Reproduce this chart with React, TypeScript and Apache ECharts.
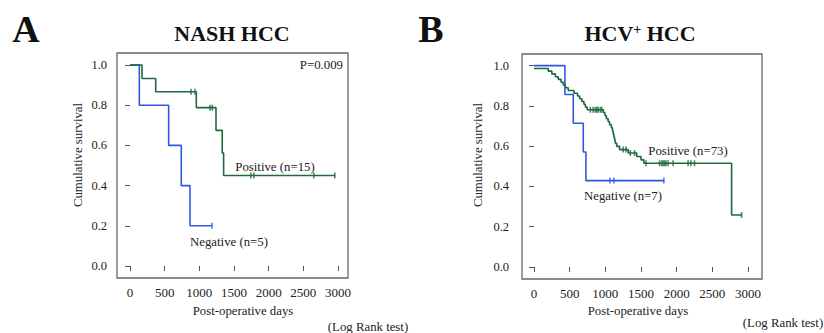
import React, { useEffect, useRef } from "react";
import * as echarts from "echarts";

// ---- Panel A (NASH HCC) ----
const negADays = [0, 134, 557, 739, 865, 1182];
const negASurv = [1.0, 0.8, 0.6, 0.4, 0.2, 0.2];
const negACensDays = [1182];
const negACensSurv = [0.2];

const posADays = [0, 173, 370, 956, 1240, 1330, 1350, 2954];
const posASurv = [1.0, 0.933, 0.867, 0.788, 0.675, 0.5625, 0.45, 0.45];
const posACensDays = [879, 937, 1153, 1187, 1743, 1787, 2651, 2954];
const posACensSurv = [0.867, 0.867, 0.788, 0.788, 0.45, 0.45, 0.45, 0.45];

// ---- Panel B (HCV+ HCC) ----
const negBDays = [0, 434, 551, 691, 728, 1821];
const negBSurv = [1.0, 0.857, 0.714, 0.571, 0.429, 0.429];
const negBCensDays = [1064, 1120, 1821];
const negBCensSurv = [0.429, 0.429, 0.429];

const posBDays = [
  0, 200, 250, 300, 340, 380, 410, 440, 480, 560, 610, 640, 670, 700, 720, 745,
  975, 995, 1015, 1040, 1060, 1085, 1100, 1110, 1120, 1130, 1140, 1160, 1200,
  1320, 1440, 1500, 1540, 2770, 2910,
];
const posBSurv = [
  0.986, 0.973, 0.959, 0.945, 0.932, 0.918, 0.904, 0.89, 0.877, 0.863, 0.849,
  0.836, 0.822, 0.808, 0.795, 0.781, 0.766, 0.751, 0.736, 0.721, 0.706, 0.691,
  0.676, 0.66, 0.645, 0.63, 0.614, 0.599, 0.583, 0.566, 0.549, 0.532, 0.515,
  0.258, 0.258,
];
const posBCensDays = [
  790, 830, 860, 880, 900, 930, 950, 1250, 1290, 1350, 1410, 1570, 1760, 1790,
  1810, 1830, 1850, 1880, 1950, 2160, 2200, 2250, 2910,
];
const posBCensSurv = [
  0.781, 0.781, 0.781, 0.781, 0.781, 0.781, 0.781, 0.583, 0.583, 0.566, 0.566,
  0.515, 0.515, 0.515, 0.515, 0.515, 0.515, 0.515, 0.515, 0.515, 0.515, 0.515,
  0.258,
];

const yTicks = [0, 0.2, 0.4, 0.6, 0.8, 1.0];
const xTicks = [0, 500, 1000, 1500, 2000, 2500, 3000];

const BLUE = "#2f58e0";
const GREEN = "#1d6b3c";
const FONT = "Liberation Serif";
const TXT = "#222";

const zip = (a: number[], b: number[]) => a.map((v, i) => [v, b[i]]);

const GRID_A = { left: 117, top: 53, width: 231, height: 225 };
const GRID_B = { left: 522, top: 54, width: 240, height: 225 };

export default function App() {
  const ref = useRef<HTMLDivElement>(null);
  useEffect(() => {
    if (!ref.current) return;
    const chart = echarts.init(ref.current, null, { renderer: "svg" });

    const mkX = (idx: number, min: number, max: number) => ({
      type: "value",
      gridIndex: idx,
      min,
      max,
      axisLine: { show: false },
      splitLine: { show: false },
      axisTick: {
        show: true,
        length: 5,
        customValues: xTicks,
        lineStyle: { color: "#555", width: 1 },
      },
      axisLabel: {
        customValues: xTicks,
        margin: 8,
        fontFamily: FONT,
        fontSize: 13,
        color: TXT,
        formatter: (v: number) => String(Math.round(v)),
      },
    });
    const mkY = (idx: number, min: number, max: number, margin: number) => ({
      type: "value",
      gridIndex: idx,
      min,
      max,
      axisLine: { show: false },
      splitLine: { show: false },
      axisTick: {
        show: true,
        length: 5,
        customValues: yTicks,
        lineStyle: { color: "#555", width: 1 },
      },
      axisLabel: {
        customValues: yTicks,
        margin,
        fontFamily: FONT,
        fontSize: 12.5,
        color: TXT,
        formatter: (v: number) => v.toFixed(1),
      },
    });

    const line = (name: string, x: number, days: number[], surv: number[], color: string) => ({
      name,
      type: "line",
      xAxisIndex: x,
      yAxisIndex: x,
      step: "end",
      showSymbol: false,
      symbol: "none",
      data: zip(days, surv),
      lineStyle: { color, width: 1.6 },
      silent: true,
    });
    const cens = (name: string, x: number, days: number[], surv: number[], color: string) => ({
      name,
      type: "scatter",
      xAxisIndex: x,
      yAxisIndex: x,
      symbol: "rect",
      symbolSize: [1.6, 6],
      data: zip(days, surv),
      itemStyle: { color },
      silent: true,
    });

    const txt = (x: number, y: number, text: string, extra: any = {}, rotation = 0) => ({
      type: "text",
      x,
      y,
      rotation,
      style: {
        text,
        fontFamily: FONT,
        fontSize: 12.8,
        fill: TXT,
        align: "center",
        verticalAlign: "middle",
        ...extra,
      },
    });
    const frame = (g: { left: number; top: number; width: number; height: number }) => ({
      type: "rect",
      silent: true,
      z: 10,
      shape: { x: g.left, y: g.top, width: g.width, height: g.height },
      style: { fill: "none", stroke: "#666", lineWidth: 1.3 },
    });

    chart.setOption({
      animation: false,
      backgroundColor: "#fff",
      textStyle: { fontFamily: FONT },
      grid: [
        { ...GRID_A, outerBoundsMode: "none" },
        { ...GRID_B, outerBoundsMode: "none" },
      ],
      xAxis: [mkX(0, -188, 3144), mkX(1, -168, 3196)],
      yAxis: [mkY(0, -0.06, 1.06, 10), mkY(1, -0.06, 1.058, 13)],
      series: [
        line("Negative A", 0, negADays, negASurv, BLUE),
        line("Positive A", 0, posADays, posASurv, GREEN),
        cens("Negative A censored", 0, negACensDays, negACensSurv, BLUE),
        cens("Positive A censored", 0, posACensDays, posACensSurv, GREEN),
        line("Negative B", 1, negBDays, negBSurv, BLUE),
        line("Positive B", 1, posBDays, posBSurv, GREEN),
        cens("Negative B censored", 1, negBCensDays, negBCensSurv, BLUE),
        cens("Positive B censored", 1, posBCensDays, posBCensSurv, GREEN),
      ],
      graphic: [
        frame(GRID_A),
        frame(GRID_B),
        txt(26, 29, "A", { fontSize: 38, fontWeight: "bold", fill: "#111" }),
        txt(232, 33, "NASH HCC", { fontSize: 22, fontWeight: "bold", fill: "#111" }),
        txt(431, 29, "B", { fontSize: 38, fontWeight: "bold", fill: "#111" }),
        {
          type: "text",
          x: 640,
          y: 33,
          style: {
            text: "{a|HCV}{s|+}{a| HCC}",
            align: "center",
            verticalAlign: "middle",
            rich: {
              a: { fontFamily: FONT, fontSize: 22, fontWeight: "bold", fill: "#111" },
              s: {
                fontFamily: FONT,
                fontSize: 14,
                fontWeight: "bold",
                fill: "#111",
                verticalAlign: "top",
                padding: [0, 0, 8, 0],
              },
            },
          },
        },
        txt(343, 65, "P=0.009", { align: "right" }),
        txt(275, 167, "Positive (n=15)"),
        txt(229, 242, "Negative (n=5)"),
        txt(688, 151, "Positive (n=73)"),
        txt(623, 196, "Negative (n=7)"),
        txt(78, 155, "Cumulative survival", {}, Math.PI / 2),
        txt(478, 155, "Cumulative survival", {}, Math.PI / 2),
        txt(243, 311, "Post-operative days"),
        txt(638, 311, "Post-operative days"),
        txt(368, 327, "(Log Rank test)"),
        txt(783, 323, "(Log Rank test)"),
      ],
    });
    return () => chart.dispose();
  }, []);
  return (
    <div
      ref={ref}
      style={{ position: "fixed", left: 0, top: 0, width: 824, height: 333 }}
    />
  );
}
